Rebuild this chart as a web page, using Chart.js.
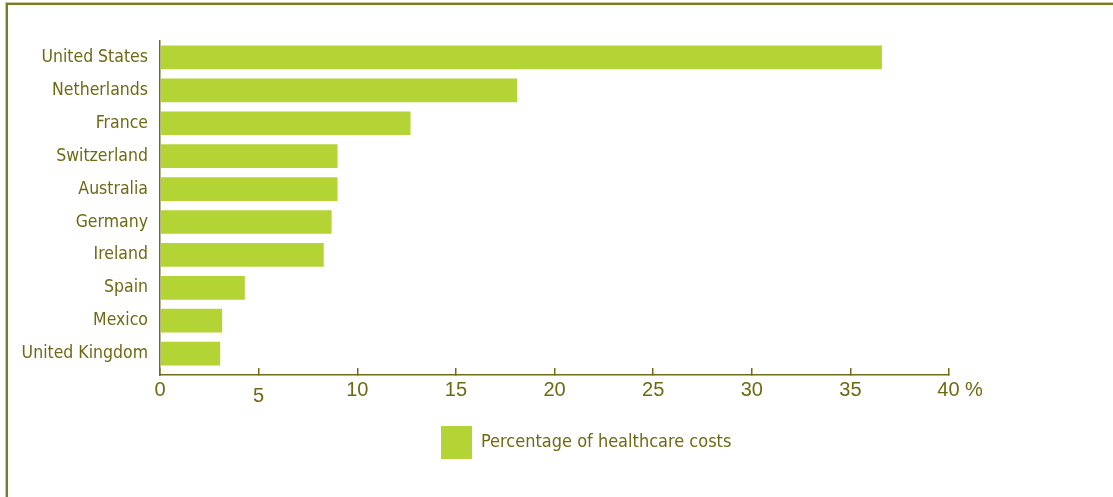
<!DOCTYPE html>
<html>
<head>
<meta charset="utf-8">
<script src="https://cdn.jsdelivr.net/npm/chart.js@4/dist/chart.umd.min.js"></script>
<style>
  html, body { margin: 0; padding: 0; background: #ffffff; }
  #wrap { position: relative; width: 1113px; height: 497px; overflow: hidden; }
  #frame {
    position: absolute; left: 6px; top: 3px; right: -10px; bottom: -10px;
    border-top: 2px solid #7c7c22; border-left: 2px solid #7c7c22;
    box-shadow: -1px -1px 0 #c9c9a4;
  }
  #chart { position: absolute; left: 0; top: 0; }
</style>
</head>
<body>
<div id="wrap">
  <div id="frame"></div>
  <canvas id="chart" width="1113" height="497"></canvas>
</div>
<script>
// Share of healthcare costs by country (%)
const countries = [
  'United States', 'Netherlands', 'France', 'Switzerland', 'Australia',
  'Germany', 'Ireland', 'Spain', 'Mexico', 'United Kingdom'
];
const shares = [36.6, 18.1, 12.7, 9.0, 9.0, 8.7, 8.3, 4.3, 3.15, 3.05];
const xTicks = [0, 5, 10, 15, 20, 25, 30, 35, 40];
const seriesLabel = 'Percentage of healthcare costs';

const olive = '#6e6a14';
const axisOlive = '#716d17';
const lime = '#b4d335';
const narrow = "'DejaVu Sans Condensed', 'Liberation Sans Narrow', 'Arial Narrow', sans-serif";
const regular = "'Liberation Sans', Arial, Helvetica, sans-serif";

// horizontal offset of the legend row inside its box
const legendOffset = 429;

const legendShift = {
  id: 'legendShift',
  afterLayout(chart) {
    if (chart.legend) {
      chart.legend.left += legendOffset;
      chart.legend.right += legendOffset;
    }
  }
};

new Chart(document.getElementById('chart'), {
  type: 'bar',
  data: {
    datasets: [{
      label: seriesLabel,
      data: countries.map((c, i) => ({ x: shares[i], y: i })),
      backgroundColor: lime,
      borderWidth: 0,
      categoryPercentage: 0.8,
      barPercentage: 0.9
    }]
  },
  plugins: [legendShift],
  options: {
    indexAxis: 'y',
    responsive: false,
    animation: false,
    layout: { padding: { top: 41, right: 164, bottom: 28, left: 0 } },
    plugins: {
      tooltip: { enabled: false },
      legend: {
        position: 'bottom',
        align: 'start',
        labels: {
          boxWidth: 31,
          boxHeight: 33,
          padding: 12,
          color: olive,
          font: { family: narrow, size: 18 }
        }
      }
    },
    scales: {
      x: {
        type: 'linear',
        position: 'bottom',
        min: 0,
        max: 40,
        afterBuildTicks: (s) => { s.ticks = xTicks.map(v => ({ value: v })); },
        afterFit: (s) => { s.height = 39; },
        ticks: {
          color: olive,
          padding: 10,
          maxRotation: 0,
          autoSkip: false,
          font: (ctx) => ({
            family: regular,
            size: 20,
            lineHeight: ctx.tick && ctx.tick.value === 5 ? 1.8 : 1.2
          }),
          callback: (v) => v === 40 ? '    40 %' : String(v)
        },
        grid: {
          drawOnChartArea: false,
          drawTicks: true,
          tickLength: -7,
          color: axisOlive,
          lineWidth: 1.5
        },
        border: { display: true, color: axisOlive, width: 1.5 }
      },
      y: {
        type: 'linear',
        reverse: true,
        offset: false,
        min: -0.5,
        max: 9.65,
        afterBuildTicks: (s) => { s.ticks = countries.map((c, i) => ({ value: i })); },
        afterFit: (s) => { s.width = 160; },
        ticks: {
          color: olive,
          padding: 12,
          autoSkip: false,
          font: { family: narrow, size: 17.5 },
          callback: (v) => countries[v]
        },
        grid: { offset: false, drawOnChartArea: false, drawTicks: false },
        border: { display: true, color: axisOlive, width: 1.5 }
      }
    }
  }
});
</script>
</body>
</html>
